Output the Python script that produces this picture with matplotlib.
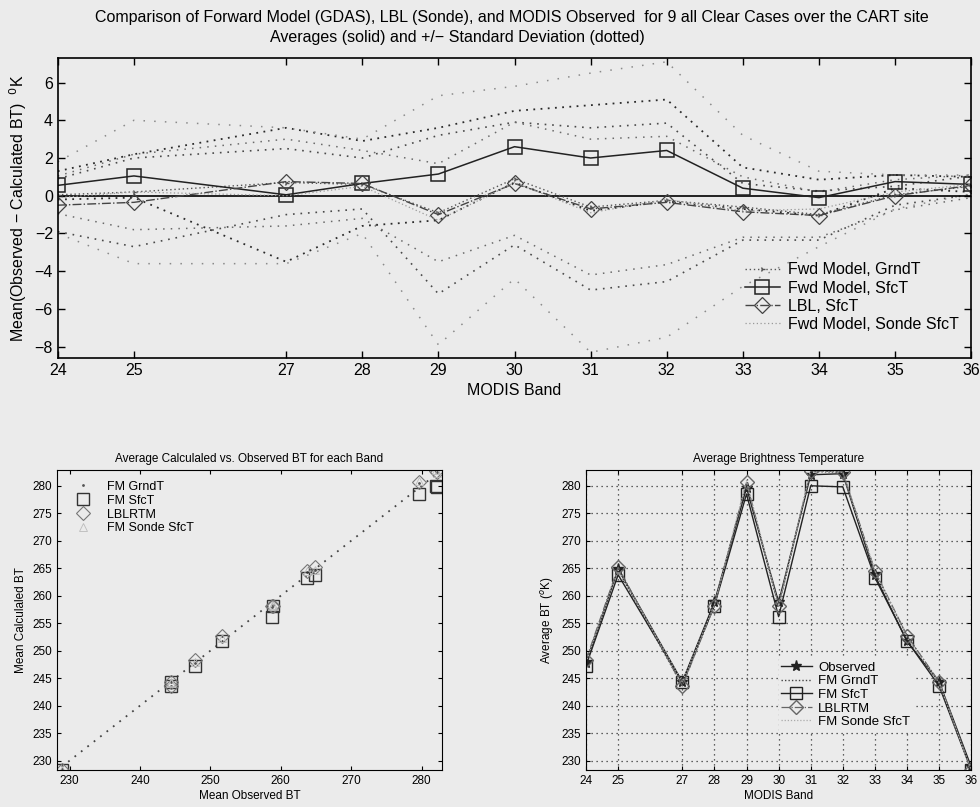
import matplotlib
matplotlib.use("Agg")
import matplotlib.pyplot as plt
import numpy as np

plt.rcParams['font.family'] = ['Liberation Sans', 'DejaVu Sans']

# ---------------- data ----------------
bands = [24, 25, 27, 28, 29, 30, 31, 32, 33, 34, 35, 36]
band_labels = ['24', '25', '27', '28', '29', '30', '31', '32', '33', '34', '35', '36']

observed_bt = [247.85, 264.85, 244.35, 258.85, 279.65, 258.8, 282.0, 282.2, 263.7, 251.7, 244.35, 228.9]

# mean (observed - calculated) and standard deviation
grnd_diff = [0.05, 0.2, 0.7, 0.6, -0.9, 0.9, -0.6, -0.25, -0.6, -1.0, 0.05, 0.5]
grnd_std = [1.0, 2.0, 2.3, 1.8, 2.6, 3.0, 3.6, 3.4, 1.6, 1.2, 0.8, 0.6]
sfct_diff = [0.55, 1.05, 0.05, 0.65, 1.15, 2.6, 2.0, 2.4, 0.4, -0.1, 0.75, 0.6]
sfct_std = [0.75, 1.15, 3.55, 2.25, 2.45, 1.9, 2.8, 2.7, 1.1, 0.95, 0.35, 0.4]
lbl_diff = [-0.5, -0.35, 0.75, 0.65, -1.0, 0.65, -0.7, -0.35, -0.85, -1.05, 0.0, 0.55]
lbl_std = [1.4, 2.35, 1.75, 1.35, 4.2, 3.25, 4.3, 4.2, 1.5, 1.3, 0.5, 0.5]
sonde_diff = [-0.1, 0.2, 0.0, 0.5, -1.3, 0.7, -0.9, -0.2, -0.8, -0.7, 0.2, 0.6]
sonde_std = [1.9, 3.8, 3.6, 2.5, 6.6, 5.1, 7.4, 7.3, 4.0, 2.0, 0.9, 0.5]

title1 = "Comparison of Forward Model (GDAS), LBL (Sonde), and MODIS Observed  for 9 all Clear Cases over the CART site"
title2 = "Averages (solid) and +/\u2212 Standard Deviation (dotted)"

# ---------------- figure ----------------
bg = '#ebebeb'
fig = plt.figure(figsize=(9.8, 8.07), dpi=100, facecolor=bg)

b = np.array(bands, dtype=float)
obs = np.array(observed_bt)
g_d, g_s = np.array(grnd_diff), np.array(grnd_std)
s_d, s_s = np.array(sfct_diff), np.array(sfct_std)
l_d, l_s = np.array(lbl_diff), np.array(lbl_std)
n_d, n_s = np.array(sonde_diff), np.array(sonde_std)

fig.text(0.522, 0.978, title1, ha='center', va='center', fontsize=11.5)
fig.text(0.467, 0.953, title2, ha='center', va='center', fontsize=11.5)

# ---------------- top panel ----------------
ax = fig.add_axes([0.059, 0.5564, 0.932, 0.3717], facecolor=bg)

# std lines
for d, s, col, dash, lw in [(s_d, s_s, '#2a2a2a', (1, 3), 1.3),
                            (l_d, l_s, '#4a4a4a', (1, 3.5), 1.2),
                            (g_d, g_s, '#6a6a6a', (1, 4), 1.1),
                            (n_d, n_s, '#8a8a8a', (1, 6), 1.1)]:
    ax.plot(b, d + s, color=col, lw=lw, linestyle=(0, dash))
    ax.plot(b, d - s, color=col, lw=lw, linestyle=(0, dash))

ax.axhline(0, color='black', lw=1.2)

ax.plot(b, g_d, color='#555555', lw=1.0, linestyle=(0, (1, 2)), marker='4',
        markersize=4, label='Fwd Model, GrndT')
ax.plot(b, s_d, color='#222222', lw=1.1, marker='s', markersize=10,
        markerfacecolor='none', markeredgewidth=1.1, label='Fwd Model, SfcT')
ax.plot(b, l_d, color='#444444', lw=1.0, linestyle='-.', marker='D', markersize=8,
        markerfacecolor='none', markeredgewidth=0.9, label='LBL, SfcT')
ax.plot(b, n_d, color='#999999', lw=0.9, linestyle=(0, (1, 2)),
        label='Fwd Model, Sonde SfcT')

ax.set_xlim(24, 36)
ax.set_ylim(-8.6, 7.3)
ax.set_xticks(bands)
ax.set_xticklabels(band_labels)
ax.set_yticks([-8, -6, -4, -2, 0, 2, 4, 6])
ax.set_yticklabels(['\u22128', '\u22126', '\u22124', '\u22122', '0', '2', '4', '6'])
ax.tick_params(direction='in', top=True, right=True, labelsize=11.5, length=5, width=1)
ax.set_xlabel('MODIS Band', fontsize=11.5)
ax.set_ylabel('Mean(Observed \u2212 Calculated BT)  $^{0}$K', fontsize=11.5)
for sp in ax.spines.values():
    sp.set_linewidth(1.2)
leg = ax.legend(loc='upper left', bbox_to_anchor=(0.745, 0.34), frameon=False,
                fontsize=11.5, handlelength=2.2, handletextpad=0.5, labelspacing=0.2,
                borderaxespad=0)

# ---------------- bottom-left scatter ----------------
ax2 = fig.add_axes([0.058, 0.0458, 0.393, 0.372], facecolor=bg)
ax2.plot([obs.min(), obs.max()], [obs.min(), obs.max()], color='#444444', lw=1.3,
         linestyle=(0, (1, 3.5)))
ax2.plot(obs, obs - g_d, linestyle='none', marker='.', markersize=2, color='#555555',
         label='FM GrndT')
ax2.plot(obs, obs - s_d, linestyle='none', marker='s', markersize=9,
         markerfacecolor='none', markeredgecolor='#333333', markeredgewidth=1.0,
         label='FM SfcT')
ax2.plot(obs, obs - l_d, linestyle='none', marker='D', markersize=7,
         markerfacecolor='none', markeredgecolor='#777777', markeredgewidth=0.8,
         label='LBLRTM')
ax2.plot(obs, obs - n_d, linestyle='none', marker='^', markersize=6,
         markerfacecolor='none', markeredgecolor='#bbbbbb', markeredgewidth=0.6,
         label='FM Sonde SfcT')
ax2.set_xlim(228.2, 282.9)
ax2.set_ylim(228.3, 282.9)
ax2.set_xticks([230, 240, 250, 260, 270, 280])
ax2.set_yticks([230, 235, 240, 245, 250, 255, 260, 265, 270, 275, 280])
ax2.tick_params(direction='in', top=True, right=True, labelsize=8.5, length=3)
ax2.set_title('Average Calculaled vs. Observed BT for each Band', fontsize=8.5, pad=6)
ax2.set_xlabel('Mean Observed BT', fontsize=8.5, labelpad=2)
ax2.set_ylabel('Mean Calculaled BT', fontsize=8.5)
leg2 = ax2.legend(loc='upper left', bbox_to_anchor=(0.03, 0.98), frameon=False,
                  fontsize=9, handlelength=1.5, handletextpad=1.2, labelspacing=0.15,
                  borderaxespad=0)

# ---------------- bottom-right ----------------
ax3 = fig.add_axes([0.598, 0.0458, 0.393, 0.372], facecolor=bg)
ax3.grid(True, color='#333333', linestyle=(0, (1, 3)), lw=0.9)
ax3.set_axisbelow(True)
ax3.plot(b, obs, color='#222222', lw=1.0, marker='*', markersize=8, label='Observed')
ax3.plot(b, obs - g_d, color='#444444', lw=1.0, linestyle=(0, (1, 1.5)), label='FM GrndT')
ax3.plot(b, obs - s_d, color='#222222', lw=1.0, marker='s', markersize=8,
         markerfacecolor='none', label='FM SfcT')
ax3.plot(b, obs - l_d, color='#666666', lw=0.9, linestyle='-.', marker='D', markersize=7,
         markerfacecolor='none', label='LBLRTM')
ax3.plot(b, obs - n_d, color='#aaaaaa', lw=0.9, linestyle=(0, (1, 1.5)),
         label='FM Sonde SfcT')
ax3.set_xlim(24, 36)
ax3.set_ylim(228.3, 282.9)
ax3.set_xticks(bands)
ax3.set_xticklabels(band_labels)
ax3.set_yticks([230, 235, 240, 245, 250, 255, 260, 265, 270, 275, 280])
ax3.tick_params(direction='in', top=True, right=True, labelsize=8.5, length=3)
ax3.set_title('Average Brightness Temperature', fontsize=8.5, pad=6)
ax3.set_xlabel('MODIS Band', fontsize=8.5, labelpad=2)
ax3.set_ylabel('Average BT ($^{o}$K)', fontsize=8.5)
leg3 = ax3.legend(loc='upper left', bbox_to_anchor=(0.5, 0.37), frameon=True,
                  fontsize=9.5, handlelength=2.3, handletextpad=0.5, labelspacing=0.1,
                  borderaxespad=0, borderpad=0.2, fancybox=False)
leg3.get_frame().set_facecolor(bg)
leg3.get_frame().set_edgecolor(bg)
leg3.get_frame().set_alpha(1)

fig.savefig('out.png', dpi=100, facecolor=bg)
